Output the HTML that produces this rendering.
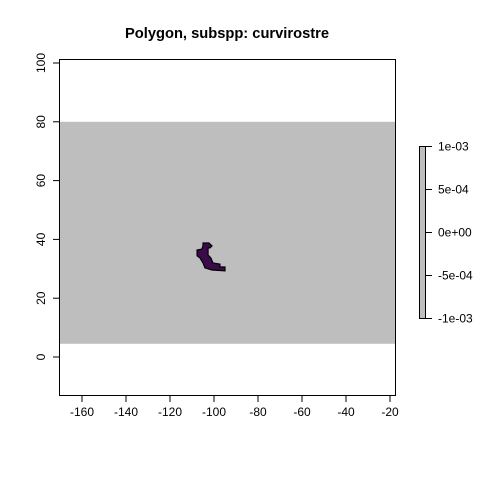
<!DOCTYPE html>
<html><head><meta charset="utf-8"><style>
body{margin:0;background:#fff}
text{font-family:"Liberation Sans",sans-serif;font-size:12px;fill:#000}
</style></head><body>
<svg id="c" width="480" height="480"></svg>
<script>
const xTicks=[-160,-140,-120,-100,-80,-60,-40,-20];
const yTicks=[0,20,40,60,80,100];
const legendTicks=[0.001,0.0005,0,-0.0005,-0.001];
const legendLabels=["1e-03","5e-04","0e+00","-5e-04","-1e-03"];
const rasterLat=[4.5,80];
const polyLon=[-105.0,-102.3,-100.9,-101.8,-102.7,-102.7,-101.4,-100.5,-97.3,-97.3,-95,-95,-100.9,-104.1,-105.0,-106.4,-107.7,-107.7,-105.5,-105.0];
const polyLat=[38.8,38.8,37.8,37.1,37.1,34.7,33.7,32.0,31.6,30.6,30.6,29.3,29.6,30.3,32.0,33.7,34.4,36.4,36.7,37.8];
const NS="http://www.w3.org/2000/svg";
const svg=document.getElementById('c');
const X=v=>60+(v+170)*2.2, Y=v=>357-v*2.94;
const L=v=>232-v/0.001*86;
function mk(t,a,p){const e=document.createElementNS(NS,t);for(const k in a)e.setAttribute(k,a[k]);(p||svg).appendChild(e);return e;}
let t=mk('text',{x:227,y:38,'text-anchor':'middle','font-weight':'bold',style:'font-size:14.7px'});


t.textContent='Polygon, subspp: curvirostre';
let r=mk('rect',{x:60,y:Y(rasterLat[1]),width:335,height:Y(rasterLat[0])-Y(rasterLat[1]),fill:'#bebebe'});


let pts=polyLon.map((v,i)=>X(v)+','+Y(polyLat[i])).join(' ');
let pg=mk('polygon',{points:pts,fill:'#3a0a4a',stroke:'#000','stroke-width':1.2});


let b=mk('rect',{x:59.5,y:59.5,width:336,height:336,fill:'none',stroke:'#000'});


xTicks.forEach(v=>{mk('line',{x1:X(v),x2:X(v),y1:395.5,y2:402,stroke:'#000'});
 let tx=mk('text',{x:X(v),y:416,'text-anchor':'middle'});
 
 
 tx.textContent=v;});
yTicks.forEach(v=>{mk('line',{x1:53,x2:59.5,y1:Y(v),y2:Y(v),stroke:'#000'});
 let tx=mk('text',{x:45,y:Y(v),'text-anchor':'middle',transform:`rotate(-90 45 ${Y(v)})`});
 
 
 tx.textContent=v;});
let lb=mk('rect',{x:419.5,y:146.5,width:6,height:172,fill:'#bebebe',stroke:'#000'});


legendTicks.forEach((v,i)=>{mk('line',{x1:425.5,x2:432,y1:L(v)+0.5,y2:L(v)+0.5,stroke:'#000'});
 let tx=mk('text',{x:438,y:L(v)+4.5});
 
 
 tx.textContent=legendLabels[i];});
</script></body></html>
